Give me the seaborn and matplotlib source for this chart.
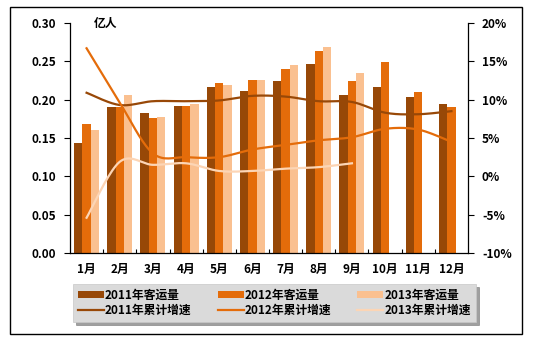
import numpy as np
import pandas as pd
import matplotlib
matplotlib.use("Agg")
import matplotlib.pyplot as plt
from matplotlib.patches import Rectangle, Patch
from matplotlib.lines import Line2D
import seaborn as sns

months = ["1月", "2月", "3月", "4月", "5月", "6月", "7月", "8月", "9月", "10月", "11月", "12月"]
years = ["2011", "2012", "2013"]

# passenger volume, 100 million people
vol_2011 = [0.144, 0.190, 0.182, 0.192, 0.216, 0.211, 0.224, 0.246, 0.206, 0.216, 0.203, 0.194]
vol_2012 = [0.168, 0.190, 0.176, 0.192, 0.222, 0.226, 0.240, 0.263, 0.224, 0.249, 0.210, 0.190]
vol_2013 = [0.160, 0.206, 0.178, 0.195, 0.219, 0.226, 0.245, 0.269, 0.235, None, None, None]

# cumulative growth, %
growth_2011 = [10.9, 9.3, 9.8, 9.8, 9.9, 10.5, 10.4, 9.8, 9.7, 8.3, 8.1, 8.5]
growth_2012 = [16.7, 9.6, 3.0, 2.5, 2.5, 3.5, 4.1, 4.7, 5.1, 6.2, 6.1, 4.5]
growth_2013 = [-5.4, 1.9, 1.5, 1.7, 0.7, 0.7, 1.0, 1.2, 1.7]

bar_colors = ["#974807", "#E46C0A", "#FAC090"]
line_colors = ["#984807", "#E46C0A", "#FCD5B5"]

plt.rcParams["font.family"] = ["Noto Sans CJK SC", "DejaVu Sans"]
plt.rcParams["font.weight"] = "bold"

df = pd.DataFrame({
    "月份": months * 3,
    "年份": sum([[y] * 12 for y in years], []),
    "客运量": vol_2011 + vol_2012 + vol_2013,
}).dropna()

fig = plt.figure(figsize=(5.35, 3.43), dpi=100)
ax = fig.add_axes([70 / 535, 1 - 253 / 343, (468 - 70) / 535, (253 - 23) / 343])

sns.barplot(data=df, x="月份", y="客运量", hue="年份", order=months, hue_order=years,
            palette=bar_colors, width=0.75, saturation=1, ax=ax, legend=False,
            edgecolor="none")

ax.set_ylim(0, 0.30)
ax.set_yticks(np.arange(0, 0.301, 0.05))
ax.set_yticklabels([f"{v:.2f}" for v in np.arange(0, 0.301, 0.05)])
ax.set_xlim(-0.5, 11.5)
ax.set_xlabel("")
ax.set_ylabel("")
for s in ["top", "right"]:
    ax.spines[s].set_visible(False)
ax.spines["left"].set_linewidth(0.9)
ax.spines["bottom"].set_linewidth(0.9)
ax.tick_params(axis="y", direction="out", length=4, width=0.8, labelsize=8.5, pad=6)
ax.tick_params(axis="x", which="major", length=0, labelsize=8.5, pad=7)
ax.set_xticks(np.arange(0.5, 11, 1), minor=True)
ax.tick_params(axis="x", which="minor", direction="in", length=3, width=0.8)
ax.text(0.06, 0.30, "亿人", transform=ax.get_yaxis_transform(), ha="left", va="center",
        fontsize=8.5, fontweight="bold")

ax2 = ax.twinx()
ax2.set_ylim(-10, 20)
ax2.set_yticks(np.arange(-10, 21, 5))
ax2.set_yticklabels([f"{v}%" for v in range(-10, 21, 5)])
for s in ["top", "left", "bottom"]:
    ax2.spines[s].set_visible(False)
ax2.spines["right"].set_linewidth(0.9)
ax2.tick_params(axis="y", direction="out", length=4, width=0.8, labelsize=8.5, pad=6)


def smooth(xs, ys, n=20):
    """Cubic Bezier curve through the points (Catmull-Rom style control points)."""
    p = np.column_stack([xs, ys]).astype(float)
    ext = np.vstack([p[0], p, p[-1]])
    out = []
    t = np.linspace(0, 1, n)[:, None]
    for i in range(len(p) - 1):
        p0, p1, p2, p3 = ext[i], ext[i + 1], ext[i + 2], ext[i + 3]
        c1 = p1 + (p2 - p0) / 6
        c2 = p2 - (p3 - p1) / 6
        seg = ((1 - t) ** 3) * p1 + 3 * ((1 - t) ** 2) * t * c1 + 3 * (1 - t) * t ** 2 * c2 + t ** 3 * p2
        out.append(seg if i == 0 else seg[1:])
    out = np.vstack(out)
    return out[:, 0], out[:, 1]


for vals, c in zip([growth_2011, growth_2012, growth_2013], line_colors):
    sx, sy = smooth(np.arange(len(vals)), vals)
    sns.lineplot(x=sx, y=sy, sort=False, color=c, linewidth=1.6, ax=ax2)

# legend
handles = []
for bc, lc, y in zip(bar_colors, line_colors, years):
    handles.append(Patch(facecolor=bc, edgecolor="none", label=f"{y}年客运量"))
    handles.append(Line2D([], [], color=lc, linewidth=1.6, label=f"{y}年累计增速"))
leg = fig.legend(handles=handles, ncol=3, loc="center",
                 bbox_to_anchor=((77 + 472) / 2 / 535, 1 - 303 / 343),
                 frameon=True, fancybox=False, shadow=True, facecolor="#DADADA",
                 edgecolor="#C8C8C8", prop={"size": 8.5, "weight": "bold"},
                 handlelength=2.2, handleheight=0.5, handletextpad=0.1,
                 columnspacing=2.2, labelspacing=0.2, borderpad=0.4)
leg.get_frame().set_linewidth(0.5)

fig.patches.append(Rectangle((10 / 535, 1 - 334 / 343), 512 / 535, 327 / 343,
                             transform=fig.transFigure, fill=False, edgecolor="black",
                             linewidth=1.0))

fig.savefig("out.png", dpi=100)
